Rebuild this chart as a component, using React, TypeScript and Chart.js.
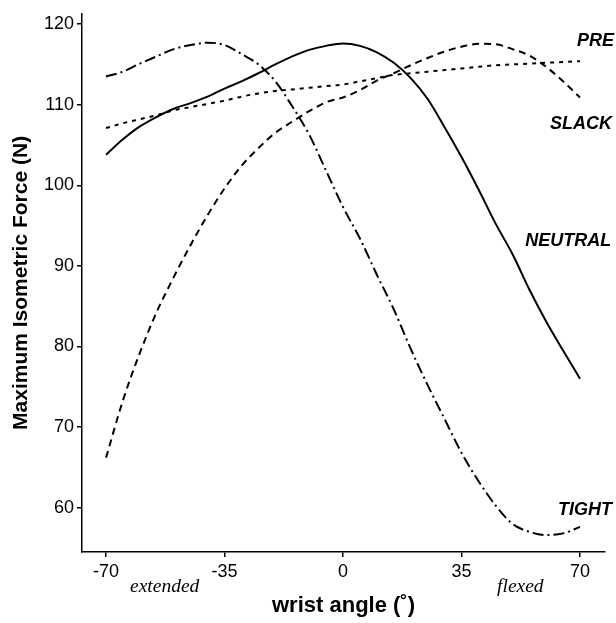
import React, { useEffect, useRef } from "react";
import { Chart, registerables } from "chart.js";

Chart.register(...registerables);

// wrist angle (degrees)
const angles = [-70, -65, -60, -55, -50, -45, -40, -35, -30, -25, -20, -15, -10, -5, 0, 5, 10, 15, 20, 25, 30, 35, 40, 45, 50, 55, 60, 65, 70];

const neutral = [103.8, 105.7, 107.3, 108.5, 109.5, 110.2, 111.0, 112.0, 112.9, 113.9, 115.0, 116.0, 116.8, 117.3, 117.6, 117.3, 116.5, 115.2, 113.3, 110.7, 107.2, 103.5, 99.5, 95.3, 91.5, 87.1, 83.1, 79.5, 76.0];
const tight = [113.5, 114.1, 115.1, 116.0, 116.9, 117.4, 117.7, 117.4, 116.3, 115.0, 112.9, 109.8, 106.3, 101.8, 97.3, 93.4, 88.9, 84.6, 79.7, 75.2, 71.0, 66.8, 63.3, 60.3, 58.0, 57.0, 56.6, 56.8, 57.6];
const pre = [107.1, 107.7, 108.2, 108.7, 109.3, 109.7, 110.1, 110.5, 111.0, 111.4, 111.7, 111.9, 112.1, 112.3, 112.5, 112.9, 113.3, 113.7, 113.9, 114.1, 114.3, 114.5, 114.7, 114.9, 115.0, 115.1, 115.2, 115.3, 115.4];
const slack = [66.2, 73.3, 79.2, 84.3, 88.6, 92.6, 96.3, 99.6, 102.4, 104.6, 106.5, 107.9, 109.2, 110.3, 110.9, 111.8, 113.0, 113.9, 114.9, 115.8, 116.6, 117.2, 117.55, 117.5, 116.9, 116.1, 114.7, 112.9, 110.9];

const xTicks = [-70, -35, 0, 35, 70];
const yTicks = [60, 70, 80, 90, 100, 110, 120];

const curveLabels = [
  { text: "PRE", x: 69.1, y: 117.3 },
  { text: "SLACK", x: 61.1, y: 107.0 },
  { text: "NEUTRAL", x: 53.8, y: 92.5 },
  { text: "TIGHT", x: 63.5, y: 59.1 },
];
const sideLabels = [
  { text: "extended", x: -62.9, y: 49.5 },
  { text: "flexed", x: 45.5, y: 49.5 },
];

const SANS = '"Liberation Sans", Arial, Helvetica, sans-serif';
const SERIF = '"Liberation Serif", "Times New Roman", serif';

const toPts = (vals: number[]) => angles.map((a, i) => ({ x: a, y: vals[i] }));

const labelPlugin = {
  id: "curveLabels",
  afterDraw(chart: any) {
    const { ctx, scales } = chart;
    ctx.save();
    ctx.fillStyle = "#000";
    ctx.textAlign = "left";
    ctx.textBaseline = "alphabetic";
    ctx.font = `italic bold 18px ${SANS}`;
    curveLabels.forEach((l) => {
      ctx.fillText(l.text, scales.x.getPixelForValue(l.x), scales.y.getPixelForValue(l.y));
    });
    ctx.font = `italic 19.5px ${SERIF}`;
    sideLabels.forEach((l) => {
      ctx.fillText(l.text, scales.x.getPixelForValue(l.x), scales.y.getPixelForValue(l.y));
    });
    ctx.restore();
  },
};

export default function App() {
  const ref = useRef<HTMLCanvasElement | null>(null);
  useEffect(() => {
    if (!ref.current) return;
    const common = { pointRadius: 0, borderColor: "#000", borderWidth: 2, fill: false, cubicInterpolationMode: "monotone" as const };
    const chart = new Chart(ref.current, {
      type: "line",
      data: {
        datasets: [
          { ...common, label: "NEUTRAL", data: toPts(neutral) },
          { ...common, label: "TIGHT", data: toPts(tight), borderDash: [11, 4, 2, 4] },
          { ...common, label: "PRE", data: toPts(pre), borderDash: [4, 5] },
          { ...common, label: "SLACK", data: toPts(slack), borderDash: [7, 5] },
        ],
      },
      options: {
        animation: false,
        responsive: true,
        maintainAspectRatio: false,
        devicePixelRatio: 1,
        layout: { padding: { left: 0, top: 13, right: 11, bottom: 0 } },
        plugins: { legend: { display: false }, tooltip: { enabled: false } },
        scales: {
          x: {
            type: "linear",
            min: -77.09,
            max: 77.38,
            afterBuildTicks: (s: any) => { s.ticks = xTicks.map((v) => ({ value: v })); },
            afterFit: (s: any) => { s.height = 71; },
            grid: { display: true, drawOnChartArea: false, drawTicks: true, tickLength: 5, color: "#000", lineWidth: 1.5 },
            border: { display: true, color: "#000", width: 1.5 },
            ticks: { color: "#000", font: { family: SANS, size: 18 }, padding: 4, maxRotation: 0, autoSkip: false },
            title: { display: true, text: "wrist angle (˚)", color: "#000", font: { family: SANS, size: 22, weight: "bold", lineHeight: 1 }, padding: { top: 0, bottom: 6 } },
          },
          y: {
            type: "linear",
            min: 54.49,
            max: 121.28,
            afterBuildTicks: (s: any) => { s.ticks = yTicks.map((v) => ({ value: v })); },
            afterFit: (s: any) => { s.width = 82; },
            grid: { display: true, drawOnChartArea: false, drawTicks: true, tickLength: 5, color: "#000", lineWidth: 1.5 },
            border: { display: true, color: "#000", width: 1.5 },
            ticks: { color: "#000", font: { family: SANS, size: 18 }, padding: 3, autoSkip: false },
            title: { display: true, text: "Maximum Isometric Force (N)", color: "#000", font: { family: SANS, size: 21, weight: "bold", lineHeight: 1 }, padding: { top: 11, bottom: 0 } },
          },
        },
      },
      plugins: [labelPlugin],
    });
    return () => chart.destroy();
  }, []);
  return (
    <div style={{ position: "fixed", left: 0, top: 0, width: 616, height: 623, background: "#fff" }}>
      <canvas ref={ref} />
    </div>
  );
}
